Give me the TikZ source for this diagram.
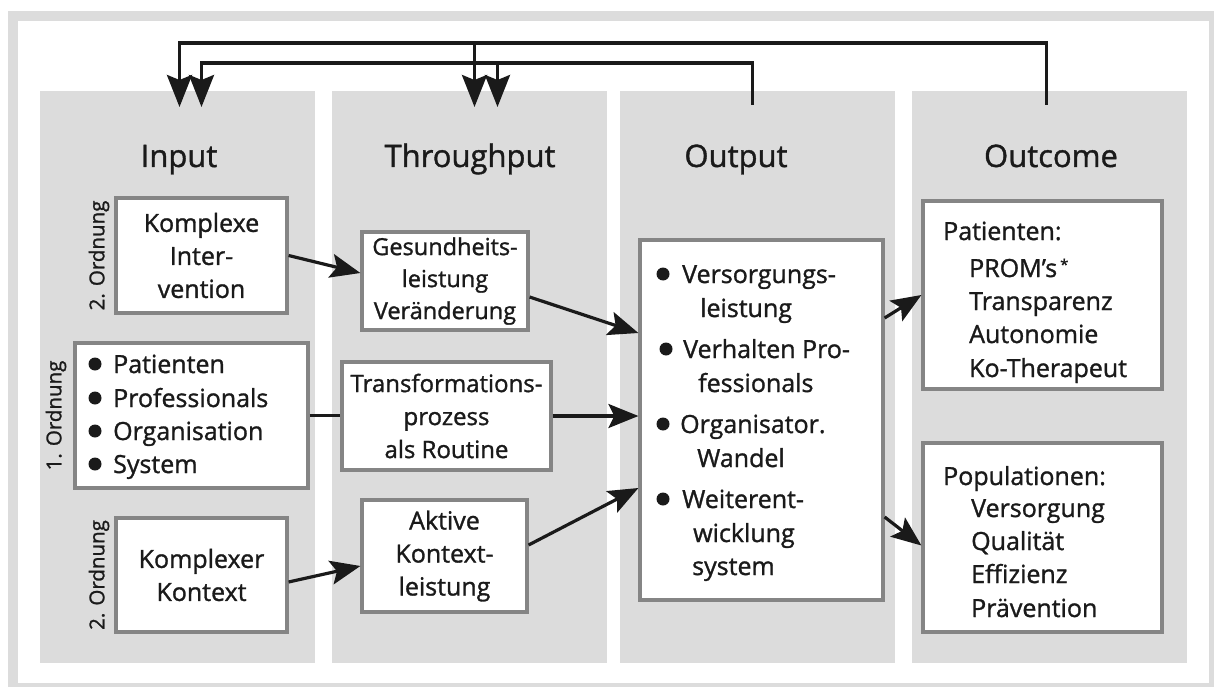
\documentclass[tikz,border=0pt]{standalone}
\usepackage{fontspec}
\setmainfont{Open Sans}[FakeBold=1.2]
\usetikzlibrary{arrows.meta}
\definecolor{colgray}{HTML}{DCDCDC}
\definecolor{boxborder}{HTML}{858585}
\definecolor{ink}{HTML}{1A1A1A}
\begin{document}
\begin{tikzpicture}[x=1pt,y=-1pt,
  col/.style={fill=colgray, draw=none, inner sep=0pt, outer sep=0pt, minimum width=275pt, minimum height=572pt},
  box/.style={draw=boxborder, line width=3.2pt, fill=white, inner sep=0pt, text=ink, align=center, font=\fontsize{25}{33}\selectfont},
  txt/.style={inner sep=0pt, text=ink, font=\fontsize{25}{33}\selectfont, anchor=base west},
  head/.style={inner sep=0pt, text=ink, font=\fontsize{31}{36}\selectfont, anchor=base},
  ord/.style={inner sep=0pt, text=ink, font=\fontsize{20.5}{24}\selectfont, rotate=90},
  conn/.style={draw=ink, line width=3.2pt},
  arr/.style={conn, -{Stealth[length=30pt,width=24pt,inset=6pt]}},
  toparr/.style={conn, -{Stealth[length=32pt,width=25pt,inset=5pt]}},
  bull/.style={fill=ink},
]
\useasboundingbox (0,0) rectangle (1214,687);
\fill[white] (0,0) rectangle (1214,687);
\fill[colgray] (8,11) rectangle (1214,687);
\fill[white] (18,21) rectangle (1209,683);

% columns
\node[col] (colIn)  at (177.5,377) {};
\node[col] (colTh)  at (469.5,377) {};
\node[col] (colOut) at (757.5,377) {};
\node[col] (colOc)  at (1049.5,377) {};

% headers
\node[head] (hIn)  at (179,167) {Input};
\node[head] (hTh)  at (470,167) {Throughput};
\node[head] (hOut) at (736,167) {Output};
\node[head] (hOc)  at (1051,167) {Outcome};

% input column
\node[box, minimum width=171pt, minimum height=115pt] (kint) at (201.5,255.5) {Komplexe\\Inter-\\vention};
\node[box, minimum width=233pt, minimum height=145pt] (list) at (191.5,415.5) {};
\node[box, minimum width=171pt, minimum height=114pt] (kkon) at (201.5,575) {Komplexer\\Kontext};
\node[ord] (ord1) at (99,255.5) {2. Ordnung};
\node[ord] (ord2) at (56,415.5) {1. Ordnung};
\node[ord] (ord3) at (99,575) {2. Ordnung};
\foreach \t/\yy [count=\i] in {Patienten/373, Professionals/407, Organisation/440, System/473} {
  \node[txt] (in\i) at (113,\yy) {\t};
  \fill[bull] (95,\yy-9) circle (6.5pt);
}

% throughput column
\node[box, minimum width=166pt, minimum height=98pt, font=\fontsize{23.5}{32}\selectfont] (ges) at (445,281) {Gesundheits-\\leistung\\Veränderung};
\node[box, minimum width=209pt, minimum height=108pt, font=\fontsize{24}{33}\selectfont] (trans) at (446.5,416) {Transformations-\\prozess\\als Routine};
\node[box, minimum width=165pt, minimum height=112pt] (akt) at (444.5,556) {Aktive\\Kontext-\\leistung};

% output column
\node[box, minimum width=243pt, minimum height=360pt] (out) at (761.5,420) {};
\node[txt] (o1) at (682,283) {Versorgungs-};
\node[txt] (o2) at (700,317) {leistung};
\node[txt] (o3) at (683,358) {Verhalten Pro-};
\node[txt] (o4) at (698,392) {fessionals};
\node[txt] (o5) at (680,433) {Organisator.};
\node[txt] (o6) at (697,467) {Wandel};
\node[txt] (o7) at (682,508) {Weiterent-};
\node[txt] (o8) at (693,542) {wicklung};
\node[txt] (o9) at (692,575) {system};
\fill[bull] (663,274) circle (6.5pt);
\fill[bull] (666,349) circle (6.5pt);
\fill[bull] (663,424) circle (6.5pt);
\fill[bull] (663,499) circle (6.5pt);

% outcome column
\node[box, minimum width=239pt, minimum height=188pt] (pat) at (1042.5,295) {};
\node[box, minimum width=239pt, minimum height=189pt] (pop) at (1042.5,537.5) {};
\node[txt] (p1) at (943,240) {Patienten:};
\node[txt] (p2) at (969,277) {PROM’s\hspace{3pt}\raisebox{7pt}{\fontsize{15}{15}\selectfont *}};
\node[txt] (p3) at (969,310) {Transparenz};
\node[txt] (p4) at (969,343) {Autonomie};
\node[txt] (p5) at (969,377) {Ko-Therapeut};
\node[txt] (q1) at (943,485) {Populationen:};
\node[txt] (q2) at (971,517) {Versorgung};
\node[txt] (q3) at (971,550) {Qualität};
\node[txt] (q4) at (971,583) {Effizienz};
\node[txt] (q5) at (971,617) {Prävention};

% connectors between boxes
\draw[arr] (kint.east) -- ([yshift=8pt]ges.west);
\draw[conn] (list.east) -- (list.east -| trans.west);
\draw[arr] ([yshift=-7pt]kkon.east) -- ([yshift=-10pt]akt.west);
\draw[arr] ([yshift=-16pt]ges.east) -- ([yshift=87pt]out.west);
\draw[arr] (trans.east) -- (trans.east -| out.west);
\draw[arr] ([yshift=11pt]akt.east) -- ([yshift=-68pt]out.west);
\draw[arr] ([yshift=102pt]out.east) -- (pat.west);
\draw[arr] ([yshift=-97pt]out.east) -- ([yshift=-8pt]pop.west);

% feedback loops on top
\coordinate (fbOc)  at (1046.5,105);
\coordinate (fbOut) at (752.5,105);
\coordinate (tIn1)  at (179.5,107);
\coordinate (tIn2)  at (201.5,107);
\coordinate (tTh1)  at (474.5,107);
\coordinate (tTh2)  at (497.5,107);
\coordinate (j1) at (474.5,43);
\coordinate (j2) at (497.5,63);
\draw[toparr] (fbOc) |- (j1) -| (tIn1);
\draw[toparr] (j1) -- (tTh1);
\draw[toparr] (fbOut) |- (j2) -| (tIn2);
\draw[toparr] (j2) -- (tTh2);
\end{tikzpicture}
\end{document}
